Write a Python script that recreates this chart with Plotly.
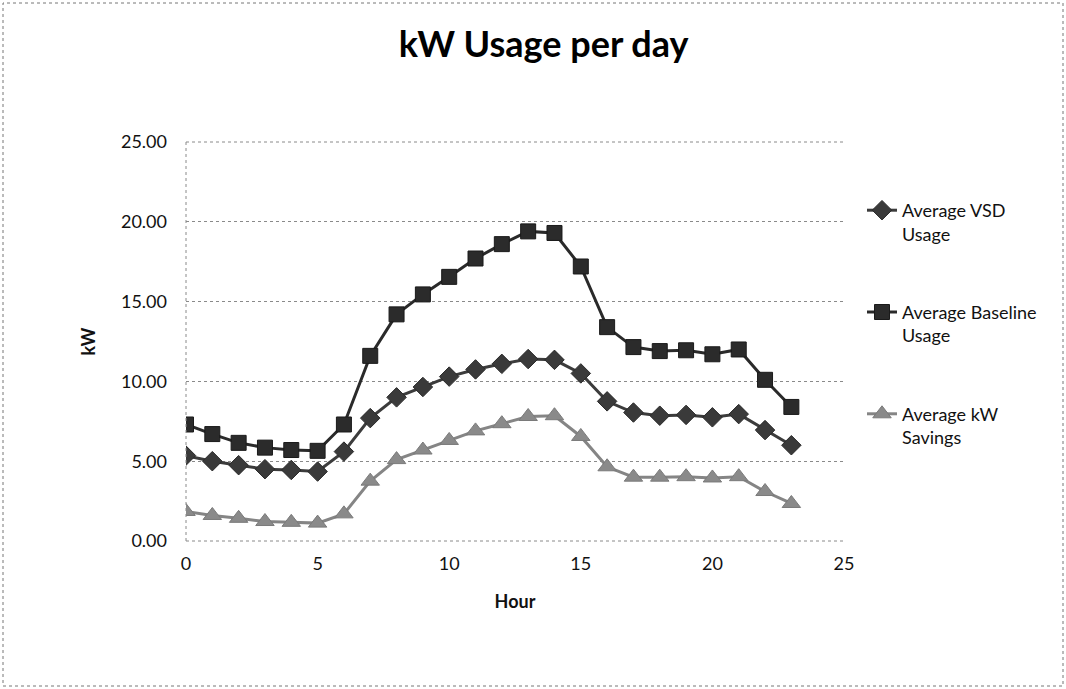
import plotly.graph_objects as go

# Hourly averages (kW)
hours = list(range(24))
vsd_usage = [5.35, 5.0, 4.75, 4.5, 4.45, 4.35, 5.6, 7.7, 9.0, 9.65, 10.3, 10.75,
             11.1, 11.4, 11.35, 10.5, 8.75, 8.05, 7.85, 7.9, 7.75, 7.95, 6.95, 6.0]
baseline_usage = [7.3, 6.7, 6.15, 5.85, 5.7, 5.65, 7.3, 11.6, 14.2, 15.45, 16.55, 17.7,
                  18.6, 19.4, 19.3, 17.2, 13.4, 12.15, 11.9, 11.95, 11.7, 12.0, 10.1, 8.4]
kw_savings = [1.85, 1.6, 1.42, 1.22, 1.17, 1.12, 1.7, 3.75, 5.1, 5.7, 6.3, 6.9,
              7.35, 7.8, 7.85, 6.55, 4.65, 4.0, 4.0, 4.03, 3.95, 4.03, 3.1, 2.35]

series_names = ["Average VSD<br>Usage", "Average Baseline<br>Usage", "Average kW<br>Savings"]
x_ticks = [0, 5, 10, 15, 20, 25]
y_ticks = [0, 5, 10, 15, 20, 25]

FONT = "Lato"

W, H = 1066, 689
L, R, T, B = 186, 222, 142, 148
pw, ph = W - L - R, H - T - B

fig = go.Figure()

fig.add_trace(go.Scatter(
    x=hours, y=vsd_usage, name=series_names[0], mode="lines+markers", legendgroup="a",
    line=dict(color="#3c3c3c", width=3),
    marker=dict(symbol="diamond", size=15, color="#3a3a3a", line=dict(color="#2a2a2a", width=1)),
))
fig.add_trace(go.Scatter(
    x=hours, y=baseline_usage, name=series_names[1], mode="lines+markers", legendgroup="b",
    line=dict(color="#2a2a2a", width=3),
    marker=dict(symbol="square", size=15, color="#2b2b2b", line=dict(color="#1a1a1a", width=1)),
))
fig.add_trace(go.Scatter(
    x=hours, y=kw_savings, name=series_names[2], mode="lines+markers", legendgroup="c",
    line=dict(color="#858585", width=3),
    marker=dict(symbol="triangle-up", size=16, color="#8a8a8a", line=dict(color="#7a7a7a", width=1)),
))

grid = dict(gridcolor="#8a8a8a", griddash="dot", gridwidth=1)

fig.update_layout(
    width=W, height=H,
    margin=dict(l=L, r=R, t=T, b=B),
    paper_bgcolor="white", plot_bgcolor="white",
    font=dict(family=FONT, size=18, color="#111"),
    title=dict(text="<b>kW Usage per day</b>", x=0.51, xanchor="center",
               y=1 - 44 / H, yanchor="middle", font=dict(family=FONT, size=36, color="#000")),
    xaxis=dict(range=[0, 25], tickvals=x_ticks, showgrid=False, zeroline=False,
               showline=False, ticks="", ticklabelstandoff=10,
               title=dict(text="<b>Hour</b>", font=dict(size=18), standoff=22)),
    yaxis=dict(range=[0, 25], tickvals=y_ticks, tickformat=".2f", showgrid=True, zeroline=False,
               showline=False, ticks="", ticklabelstandoff=18,
               title=dict(text="<b>kW</b>", font=dict(size=18), standoff=20), **grid),
    legend=dict(x=(862 - L) / pw, xanchor="left", y=(H - B - 192) / ph, yanchor="top",
                font=dict(family=FONT, size=18, color="#111"), valign="top",
                tracegroupgap=52, bgcolor="rgba(0,0,0,0)"),
    showlegend=True,
)

# dotted plot-area edges: left, bottom and top
for x0, x1, y0, y1 in [(0, 0, 0, 1), (0, 1, 0, 0), (0, 1, 1, 1)]:
    fig.add_shape(type="line", xref="paper", yref="paper", x0=x0, x1=x1, y0=y0, y1=y1,
                  line=dict(color="#8a8a8a", width=1, dash="dot"))

# dotted chart border
fig.add_shape(type="rect", xref="paper", yref="paper",
              x0=-(L - 3) / pw, x1=1 + (R - 3) / pw,
              y0=-(B - 3) / ph, y1=1 + (T - 3) / ph,
              line=dict(color="#777", width=1, dash="dot"))

fig.write_html("out.html")
